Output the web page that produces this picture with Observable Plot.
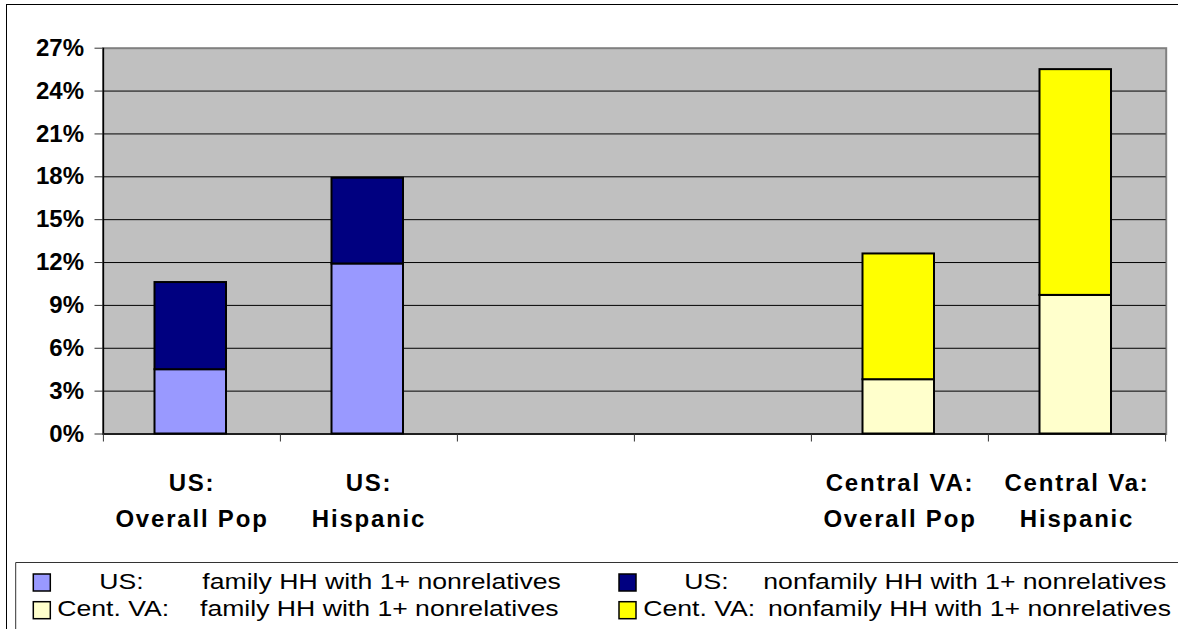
<!DOCTYPE html>
<html>
<head>
<meta charset="utf-8">
<script src="https://cdn.jsdelivr.net/npm/d3@7"></script>
<script src="https://cdn.jsdelivr.net/npm/@observablehq/plot@0.6"></script>
<style>
  html, body { margin: 0; padding: 0; background: #fff; }
  #page { position: relative; width: 1178px; height: 629px; overflow: hidden;
          font-family: "Liberation Sans", Arial, sans-serif; }
  #outer { position: absolute; left: 6px; top: 4px; width: 1300px; height: 800px;
           border-top: 1.5px solid #000; border-left: 1.5px solid #000; box-sizing: border-box; }
  #chart { position: absolute; left: 0; top: 0; }
  #legend { position: absolute; left: 0; top: 562px; }
  #chart g[aria-label="x-axis tick label"] text { letter-spacing: 1.8px; }
</style>
</head>
<body>
<div id="page">
  <div id="outer"></div>
  <div id="chart"></div>
  <svg id="legend" width="1178" height="67"></svg>
</div>
<script>
// Categories along the x axis (two empty slots separate the US and Central VA groups)
const categories = ["US:\nOverall Pop", "US:\nHispanic", "", " ", "Central VA:\nOverall Pop", "Central Va:\nHispanic"];

// Series: household type shares (%)
const legendPrefix = ["US:", "US:", "Cent. VA:", "Cent. VA:"];
const legendText = [
  "family HH with 1+ nonrelatives",
  "nonfamily HH with 1+ nonrelatives",
  "family HH with 1+ nonrelatives",
  "nonfamily HH with 1+ nonrelatives"
];
const seriesNames = legendPrefix.map((p, i) => p + " " + legendText[i]);
const seriesColors = ["#9999FF", "#000080", "#FFFFCC", "#FFFF00"];

const usCategories = [categories[0], categories[1]];
const usFamily = [4.5, 11.9];
const usNonfamily = [6.1, 6.0];

const vaCategories = [categories[4], categories[5]];
const vaFamily = [3.8, 9.7];
const vaNonfamily = [8.8, 15.8];

const yTicks = [0, 3, 6, 9, 12, 15, 18, 21, 24, 27];

// Long table for the stacked bars
const rows = [];
usCategories.forEach((c, i) => {
  rows.push({category: c, series: seriesNames[0], value: usFamily[i]});
  rows.push({category: c, series: seriesNames[1], value: usNonfamily[i]});
});
vaCategories.forEach((c, i) => {
  rows.push({category: c, series: seriesNames[2], value: vaFamily[i]});
  rows.push({category: c, series: seriesNames[3], value: vaNonfamily[i]});
});

const W = 1178, H = 562;
const mL = 102.5, mR = 12.3, mT = 47.7, mB = 128.5;
const step = (W - mL - mR) / categories.length;

const chart = Plot.plot({
  width: W,
  height: H,
  marginLeft: mL,
  marginRight: mR,
  marginTop: mT,
  marginBottom: mB,
  style: {fontFamily: "'Liberation Sans', Arial, sans-serif", background: "transparent", color: "#000", overflow: "visible"},
  x: {domain: categories, padding: 0},
  y: {domain: [0, 27]},
  color: {domain: seriesNames, range: seriesColors},
  marks: [
    Plot.frame({fill: "#C0C0C0", stroke: "#808080", strokeWidth: 2}),
    Plot.ruleY(yTicks.filter(d => d > 0 && d < 27), {stroke: "#000", strokeWidth: 1}),
    Plot.barY(rows, Plot.stackY({
      x: "category", y: "value", fill: "series",
      stroke: "#000", strokeWidth: 2,
      insetLeft: 51.5, insetRight: 54
    })),
    Plot.ruleY([0], {stroke: "#000", strokeWidth: 1.5}),
    Plot.ruleX([categories[0]], {dx: -step / 2, stroke: "#000", strokeWidth: 1.5}),
    Plot.axisY({
      ticks: yTicks, tickFormat: d => d + "%", tickSize: 8, tickPadding: 11,
      fontSize: 24, fontWeight: "bold", label: null, stroke: "#333"
    }),
    Plot.axisX({ticks: categories, tickSize: 8, text: null, dx: -step / 2, stroke: "#333", label: null}),
    Plot.axisX({ticks: [categories[categories.length - 1]], tickSize: 8, text: null, dx: step / 2, stroke: "#333", label: null}),
    Plot.axisX({tickSize: 0, tickPadding: 31, fontSize: 24, fontWeight: "bold", lineHeight: 1.5, label: null})
  ]
});
document.getElementById("chart").append(chart);

// Legend: two columns, two rows, boxed
const legend = d3.select("#legend");
legend.append("path")
  .attr("d", "M15.7,67V0.5H1178")
  .attr("fill", "none").attr("stroke", "#333").attr("stroke-width", 1);

const legendItems = [
  {s: 0, swatchX: 33.3, swatchY: 12, prefixX: 99.3, textX: 202.3, baseline: 27.3},
  {s: 2, swatchX: 33.3, swatchY: 39.7, prefixX: 57.3, textX: 200, baseline: 53.5},
  {s: 1, swatchX: 619, swatchY: 12, prefixX: 684.3, textX: 763.3, baseline: 27.3},
  {s: 3, swatchX: 619, swatchY: 39.7, prefixX: 643.3, textX: 768, baseline: 53.5}
];
const g = legend.selectAll("g.item").data(legendItems).join("g").attr("class", "item");
g.append("rect")
  .attr("x", d => d.swatchX).attr("y", d => d.swatchY)
  .attr("width", 17).attr("height", 17)
  .attr("fill", d => seriesColors[d.s]).attr("stroke", "#000").attr("stroke-width", 1.5);
g.append("text")
  .attr("transform", d => `translate(${d.prefixX},${d.baseline}) scale(1.21,1)`)
  .attr("font-size", 22).attr("font-family", "'Liberation Sans', Arial, sans-serif")
  .text(d => legendPrefix[d.s]);
g.append("text")
  .attr("transform", d => `translate(${d.textX},${d.baseline}) scale(1.21,1)`)
  .attr("font-size", 22).attr("font-family", "'Liberation Sans', Arial, sans-serif")
  .text(d => legendText[d.s]);
</script>
</body>
</html>
